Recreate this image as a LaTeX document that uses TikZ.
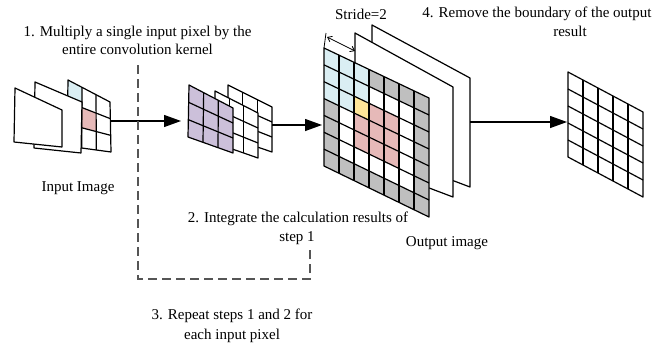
\documentclass[tikz,border=0pt]{standalone}
\usepackage{fontspec}
\setmainfont{Liberation Serif}
\usetikzlibrary{calc,arrows.meta}

\definecolor{cellblue}{HTML}{DAEEF3}
\definecolor{cellred}{HTML}{E6B9B8}
\definecolor{cellgold}{HTML}{FFE699}
\definecolor{cellpurple}{HTML}{CCC0DA}
\definecolor{cellgray}{HTML}{BFBFBF}
\definecolor{dashgray}{HTML}{555555}

\tikzset{
  edge/.style={line width=1.2pt, draw=black, line join=round},
  flow/.style={line width=1.3pt, draw=black, -{Triangle[length=17pt,width=12pt]}},
  loopline/.style={line width=1.3pt, draw=dashgray, dash pattern=on 9pt off 5pt},
  measure/.style={line width=0.8pt, draw=black},
  lbl/.style={font=\fontsize{15}{19}\selectfont, inner sep=0pt, anchor=base},
}

% corners of a (perspective) sheet
\newcommand{\pquad}[5]{%
  \coordinate (#1-tl) at (#2); \coordinate (#1-tr) at (#3);
  \coordinate (#1-br) at (#4); \coordinate (#1-bl) at (#5);}
% white face of a sheet
\newcommand{\pfill}[1]{\fill[white] (#1-tl) -- (#1-tr) -- (#1-br) -- (#1-bl) -- cycle;}
% outline of a sheet
\newcommand{\pborder}[1]{\draw[edge] (#1-tl) -- (#1-tr) -- (#1-br) -- (#1-bl) -- cycle;}
% inner grid lines: name, rows, cols
\newcommand{\plines}[3]{%
  \pgfmathtruncatemacro\pR{#2-1}\pgfmathtruncatemacro\pC{#3-1}%
  \foreach \k in {1,...,\pC}{\draw[edge] ($(#1-tl)!\k/#3!(#1-tr)$) -- ($(#1-bl)!\k/#3!(#1-br)$);}%
  \foreach \k in {1,...,\pR}{\draw[edge] ($(#1-tl)!\k/#2!(#1-bl)$) -- ($(#1-tr)!\k/#2!(#1-br)$);}}
% one filled cell: name, rows, cols, row, col, colour
\newcommand{\pcell}[6]{%
  \pgfmathsetmacro\ua{#5/#3}\pgfmathsetmacro\ub{(#5+1)/#3}%
  \pgfmathsetmacro\va{#4/#2}\pgfmathsetmacro\vb{(#4+1)/#2}%
  \fill[#6] ($($(#1-tl)!\ua!(#1-tr)$)!\va!($(#1-bl)!\ua!(#1-br)$)$)
    -- ($($(#1-tl)!\ub!(#1-tr)$)!\va!($(#1-bl)!\ub!(#1-br)$)$)
    -- ($($(#1-tl)!\ub!(#1-tr)$)!\vb!($(#1-bl)!\ub!(#1-br)$)$)
    -- ($($(#1-tl)!\ua!(#1-tr)$)!\vb!($(#1-bl)!\ua!(#1-br)$)$) -- cycle;}

\begin{document}
\begin{tikzpicture}[x=1pt,y=-1pt]
\useasboundingbox (0,0) rectangle (656,343);

% ---------- input image: three channels ----------
\pquad{in3}{68,80}{110,102}{111,152}{67,146}
\pquad{in2}{35,82}{82,102}{81,153}{34,148}
\pquad{in1}{15,88}{62,110}{62,147}{14,142}
\pfill{in3}
\pcell{in3}{3}{3}{0}{0}{cellblue}
\pcell{in3}{3}{3}{1}{1}{cellred}
\plines{in3}{3}{3}
\pborder{in3}
\pfill{in2}\pborder{in2}
\pfill{in1}\pborder{in1}

% ---------- kernel stack ----------
\pquad{k3}{228,85}{272,107}{272,152}{228,137}
\pquad{k2}{215,91}{258,113}{258,158}{215,143}
\pquad{k1}{189,85}{233,108}{233,153}{188,137}
\pfill{k3}\plines{k3}{3}{3}\pborder{k3}
\pfill{k2}\plines{k2}{3}{3}\pborder{k2}
\fill[cellpurple] (k1-tl) -- (k1-tr) -- (k1-br) -- (k1-bl) -- cycle;
\plines{k1}{3}{3}\pborder{k1}

% ---------- intermediate output with padding ----------
\pquad{B}{372,25}{470,78}{470,187}{372,150}
\pquad{M}{355,33}{453,87}{453,197}{355,160}
\pquad{G}{324,48}{429,98}{429,217}{324,166}
\pfill{B}\pborder{B}
\pfill{M}\pborder{M}
\pfill{G}
\foreach \c in {0,...,6}{\pcell{G}{7}{7}{0}{\c}{cellgray}\pcell{G}{7}{7}{6}{\c}{cellgray}}
\foreach \r in {1,...,5}{\pcell{G}{7}{7}{\r}{0}{cellgray}\pcell{G}{7}{7}{\r}{6}{cellgray}}
\foreach \r/\c in {0/0,0/1,0/2,1/0,1/1,1/2,2/0,2/1}{\pcell{G}{7}{7}{\r}{\c}{cellblue}}
\foreach \r/\c in {2/3,2/4,3/2,3/3,3/4,4/2,4/3,4/4}{\pcell{G}{7}{7}{\r}{\c}{cellred}}
\pcell{G}{7}{7}{2}{2}{cellgold}
\plines{G}{7}{7}
\pborder{G}

% stride marker
\coordinate (st-top) at (326,33);
\coordinate (st-a) at (327,37);
\coordinate (st-b) at (355,51);
\draw[measure] (G-tl) -- (st-top);
\draw[measure, {Straight Barb[length=4pt,width=6pt]}-{Straight Barb[length=4pt,width=6pt]}] (st-a) -- (st-b);

% ---------- final output ----------
\pquad{O}{568,72}{643,112}{643,197}{568,157}
\pfill{O}\plines{O}{5}{5}\pborder{O}

% ---------- flow arrows ----------
\coordinate (a1s) at (111,121); \coordinate (a1e) at (181,121);
\coordinate (a2s) at (272,125); \coordinate (a2e) at (322,125);
\coordinate (a3s) at (470,122); \coordinate (a3e) at (567,122);
\draw[flow] (a1s) -- (a1e);
\draw[flow] (a2s) -- (a2e);
\draw[flow] (a3s) -- (a3e);

% ---------- repeat loop ----------
\coordinate (lp-top) at (138,65);
\coordinate (lp-c1) at (138,279);
\coordinate (lp-c2) at (310,279);
\coordinate (lp-end) at (310,248);
\draw[loopline] (lp-top) -- (lp-c1) -- (lp-c2) -- (lp-end);

% ---------- labels ----------
\node[lbl] (t1a) at (137.5,36) {1. Multiply a single input pixel by the};
\node[lbl] (t1b) at (137.5,54) {entire convolution kernel};
\node[lbl] (tin) at (78,191) {Input Image};
\node[lbl] (tst) at (361,19) {Stride=2};
\node[lbl] (t4a) at (537,17) {4. Remove the boundary of the output};
\node[lbl] (t4b) at (570,36) {result};
\node[lbl] (t2a) at (298,222) {2. Integrate the calculation results of};
\node[lbl] (t2b) at (297,241) {step 1};
\node[lbl] (tout) at (447,246) {Output image};
\node[lbl] (t3a) at (232,319) {3. Repeat steps 1 and 2 for};
\node[lbl] (t3b) at (232,339) {each input pixel};
\end{tikzpicture}
\end{document}
